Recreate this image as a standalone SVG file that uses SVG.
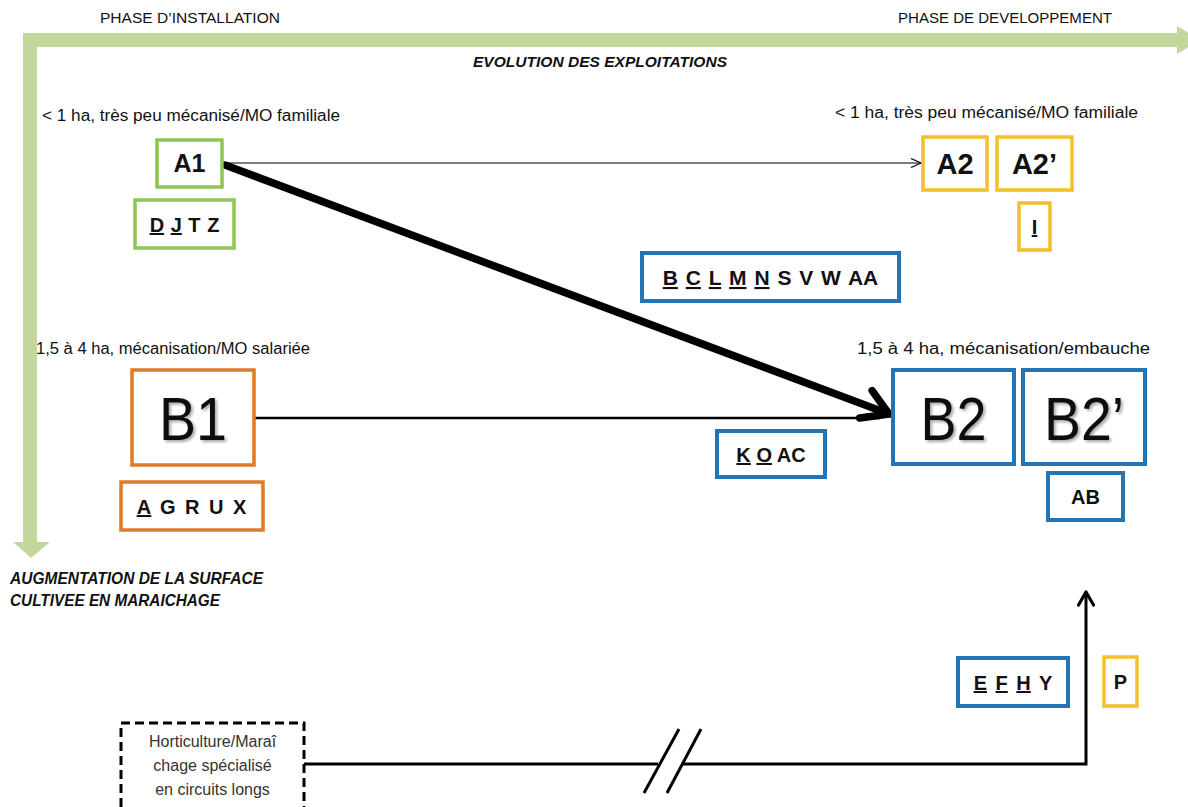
<svg xmlns="http://www.w3.org/2000/svg" width="1188" height="807" viewBox="0 0 1188 807">
<defs>
<style>
text{font-family:"Liberation Sans",Arial,sans-serif;fill:#111}
.lbl{font-size:16px}
.hdr{font-size:15px}
.bi{font-size:15px;font-weight:bold;font-style:italic}
.code{font-size:20px;font-weight:bold;text-anchor:middle}
.big{font-size:62px;text-anchor:middle}
.u{text-decoration:underline}
.g{fill:#fff;stroke:#8fc353;stroke-width:3.5}
.o{fill:#fff;stroke:#e07a26;stroke-width:3.5}
.b{fill:#fff;stroke:#2274b5;stroke-width:4}
.y{fill:#fff;stroke:#f4bf2a;stroke-width:3.5}
.ln{fill:none;stroke:#000}
</style>
<filter id="sh" x="-20%" y="-20%" width="140%" height="140%">
<feDropShadow dx="2" dy="2" stdDeviation="1.5" flood-color="#000" flood-opacity="0.35"/>
</filter>
<marker id="arrThin" markerUnits="userSpaceOnUse" markerWidth="14" markerHeight="12" refX="11" refY="6" orient="auto">
<path d="M1,1.5 L11,6 L1,10.5" fill="none" stroke="#000" stroke-width="1.2"/>
</marker>
<marker id="arrUp" markerUnits="userSpaceOnUse" markerWidth="20" markerHeight="20" refX="16" refY="10" orient="auto">
<path d="M3,2.5 L16,10 L3,17.5" fill="none" stroke="#000" stroke-width="3.2" stroke-linecap="round" stroke-linejoin="round"/>
</marker>
<marker id="arrThick" markerUnits="userSpaceOnUse" markerWidth="44" markerHeight="44" refX="33" refY="22" orient="auto">
<path d="M9,6 L33,22 L7,36" fill="none" stroke="#000" stroke-width="7.5" stroke-linecap="round" stroke-linejoin="round"/>
</marker>
</defs>
<rect width="1188" height="807" fill="#fff"/>

<g id="axes">
<path d="M23,33 H1177 V26 L1200,40 L1177,54 V47 H37 V542 H50 L31,558 L13,542 H23 Z" fill="#c3d69b"/>
<text class="hdr" x="100" y="23" textLength="180" lengthAdjust="spacingAndGlyphs">PHASE D’INSTALLATION</text>
<text class="hdr" x="898" y="23" textLength="214" lengthAdjust="spacingAndGlyphs">PHASE DE DEVELOPPEMENT</text>
<text class="bi" x="473" y="67" textLength="254" lengthAdjust="spacingAndGlyphs">EVOLUTION DES EXPLOITATIONS</text>
<text class="bi" style="font-size:16px" x="10" y="584" textLength="253" lengthAdjust="spacingAndGlyphs">AUGMENTATION DE LA SURFACE</text>
<text class="bi" style="font-size:16px" x="10" y="606" textLength="210" lengthAdjust="spacingAndGlyphs">CULTIVEE EN MARAICHAGE</text>
</g>

<g id="labels">
<text class="lbl" x="42" y="121" textLength="298" lengthAdjust="spacingAndGlyphs">&lt; 1 ha, très peu mécanisé/MO familiale</text>
<text class="lbl" x="835" y="118" textLength="303" lengthAdjust="spacingAndGlyphs">&lt; 1 ha, très peu mécanisé/MO familiale</text>
<text class="lbl" x="36" y="354" textLength="274" lengthAdjust="spacingAndGlyphs">1,5 à 4 ha, mécanisation/MO salariée</text>
<text class="lbl" x="857" y="354" textLength="293" lengthAdjust="spacingAndGlyphs">1,5 à 4 ha, mécanisation/embauche</text>
</g>

<g id="connectors">
<line class="ln" x1="224" y1="163" x2="921" y2="163" stroke-width="1.2" marker-end="url(#arrThin)"/>
<line class="ln" x1="254" y1="418" x2="880" y2="418" stroke-width="2.6"/>
<line class="ln" x1="225" y1="165" x2="889" y2="414" stroke-width="7.5" stroke-linecap="round" marker-end="url(#arrThick)"/>
<path class="ln" d="M304,764 H658 M682,764 H1086 V592" stroke-width="3" marker-end="url(#arrUp)"/>
<path class="ln" d="M679,729 L644,793 M701,729 L667,793" stroke-width="3"/>
</g>

<g id="A1">
<rect class="g" x="157" y="140" width="65" height="47"/>
<text class="code" style="font-size:25px" x="189.5" y="172">A1</text>
</g>
<g id="DJTZ">
<rect class="g" x="135" y="200" width="99" height="48"/>
<text class="code" x="184.5" y="232" word-spacing="1"><tspan class="u">D</tspan> <tspan class="u">J</tspan> T Z</text>
</g>
<g id="A2">
<rect class="y" x="923" y="137" width="64" height="53"/>
<text class="code" style="font-size:29px" x="955" y="174">A2</text>
</g>
<g id="A2p">
<rect class="y" x="997" y="137" width="75" height="53"/>
<text class="code" style="font-size:29px" x="1034.5" y="174">A2’</text>
</g>
<g id="I">
<rect class="y" x="1019" y="203" width="31" height="47"/>
<text class="code" x="1034.5" y="234"><tspan class="u">I</tspan></text>
</g>
<g id="BCLMN">
<rect class="b" x="642" y="253" width="257" height="48"/>
<text class="code" style="font-size:21px" x="770.5" y="285" word-spacing="2"><tspan class="u">B</tspan> <tspan class="u">C</tspan> <tspan class="u">L</tspan> <tspan class="u">M</tspan> <tspan class="u">N</tspan> S V W AA</text>
</g>
<g id="B1">
<rect class="o" x="132" y="370" width="122" height="95"/>
<text class="big" x="193" y="440" textLength="68" lengthAdjust="spacingAndGlyphs" filter="url(#sh)">B1</text>
</g>
<g id="AGRUX">
<rect class="o" x="121" y="482" width="142" height="48"/>
<text class="code" x="192" y="514" word-spacing="2" letter-spacing="1"><tspan class="u">A</tspan> G R U X</text>
</g>
<g id="B2">
<rect class="b" x="893" y="370" width="121" height="94"/>
<text class="big" x="953.5" y="440" textLength="66" lengthAdjust="spacingAndGlyphs" filter="url(#sh)">B2</text>
</g>
<g id="B2p">
<rect class="b" x="1023" y="370" width="122" height="94"/>
<text class="big" x="1084" y="440" textLength="80" lengthAdjust="spacingAndGlyphs" filter="url(#sh)">B2’</text>
</g>
<g id="KOAC">
<rect class="b" x="717" y="431" width="108" height="46"/>
<text class="code" x="771" y="462"><tspan class="u">K</tspan> <tspan class="u">O</tspan> AC</text>
</g>
<g id="AB">
<rect class="b" x="1048" y="473" width="75" height="47"/>
<text class="code" x="1085.5" y="504">AB</text>
</g>
<g id="EFHY">
<rect class="b" x="958" y="658" width="110" height="48"/>
<text class="code" x="1013" y="690" word-spacing="3"><tspan class="u">E</tspan> <tspan class="u">F</tspan> <tspan class="u">H</tspan> Y</text>
</g>
<g id="P">
<rect class="y" x="1104" y="657" width="33" height="49"/>
<text class="code" x="1120.5" y="689">P</text>
</g>
<g id="horti">
<rect x="121" y="723" width="183" height="90" fill="#fff" stroke="#000" stroke-width="3" stroke-dasharray="9,5"/>
<text style="font-size:16px;text-anchor:middle;fill:#333" x="212.5" y="747">Horticulture/Maraî</text>
<text style="font-size:16px;text-anchor:middle;fill:#333" x="212.5" y="771">chage spécialisé</text>
<text style="font-size:16px;text-anchor:middle;fill:#333" x="212.5" y="795">en circuits longs</text>
</g>
</svg>
